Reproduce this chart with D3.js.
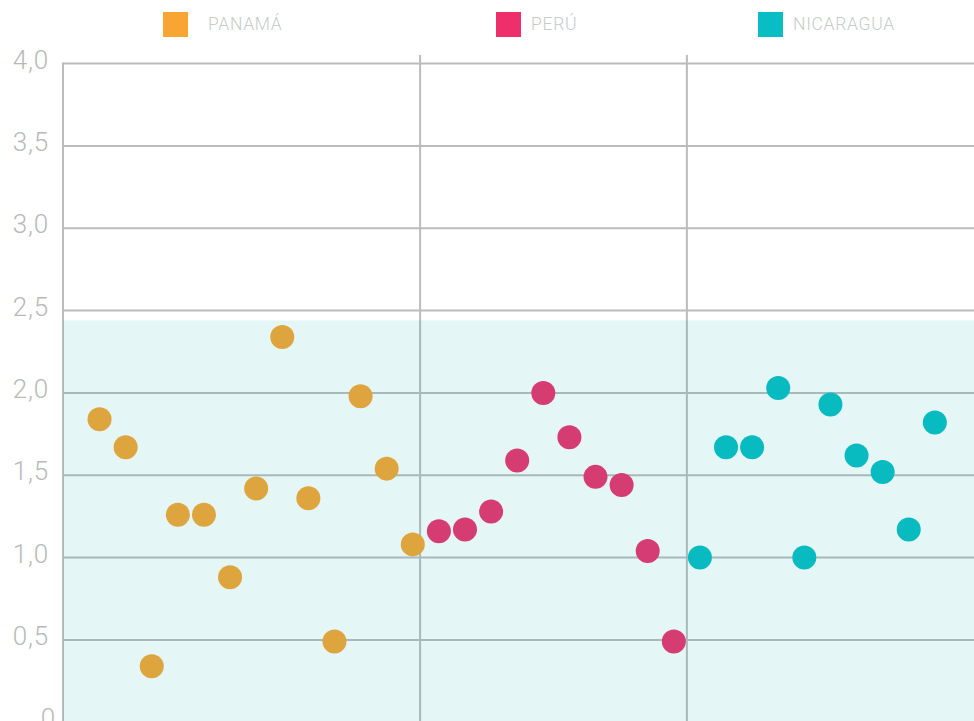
<!DOCTYPE html>
<html>
<head>
<meta charset="utf-8">
<script src="https://cdn.jsdelivr.net/npm/d3@7"></script>
<style>
  body { margin: 0; background: #fff; }
  text { font-family: Roboto, "Noto Sans", sans-serif; }
</style>
</head>
<body>
<svg id="chart"></svg>
<script>
// values, one dot per entry (x = running index)
const panama = [1.84, 1.67, 0.34, 1.26, 1.26, 0.88, 1.42, 2.34, 1.36, 0.49, 1.98, 1.54, 1.08];
const peru = [1.16, 1.17, 1.28, 1.59, 2.00, 1.73, 1.49, 1.44, 1.04, 0.49];
const nicaragua = [1.00, 1.67, 1.67, 2.03, 1.00, 1.93, 1.62, 1.52, 1.17, 1.82];

const seriesNames = ["PANAMÁ", "PERÚ", "NICARAGUA"];
const yTicks = [0, 0.5, 1, 1.5, 2, 2.5, 3, 3.5, 4];
const dividers = [12.28, 22.5];   // vertical separators, in index units
const bandTop = 2.44;            // shaded zone from 0 up to this value

const WIDTH = 974, HEIGHT = 721;
const DOT_R = 12;
const colors = ["#f9a533", "#ef2f6c", "#08bdc4"];
const legendX = [163, 496, 758];
const legendTextX = [208, 531, 793];

const svg = d3.select("#chart").attr("width", WIDTH).attr("height", HEIGHT);

const x = d3.scaleLinear().domain([-1.4, 33.5]).range([63, WIDTH]);
const y = d3.scaleLinear().domain([0, 4]).range([722.2, 63.6]);

// flatten series into points with a running index
let idx = 0;
const points = [];
[panama, peru, nicaragua].forEach((s, si) => {
    s.forEach(v => points.push({i: idx++, v: v, s: si}));
});

// horizontal grid
svg.append("g")
    .selectAll("line")
    .data(yTicks)
    .enter()
    .append("line")
    .attr("x1", x.range()[0])
    .attr("x2", WIDTH)
    .attr("y1", d => y(d))
    .attr("y2", d => y(d))
    .attr("stroke", "#bbbbbb")
    .attr("stroke-width", 2);

// left axis line
svg.append("line")
    .attr("x1", x.range()[0]).attr("x2", x.range()[0])
    .attr("y1", y(4) - 1).attr("y2", HEIGHT)
    .attr("stroke", "#bbbbbb")
    .attr("stroke-width", 2);

// group separators
svg.append("g")
    .selectAll("line")
    .data(dividers)
    .enter()
    .append("line")
    .attr("x1", d => x(d)).attr("x2", d => x(d))
    .attr("y1", 55).attr("y2", HEIGHT)
    .attr("stroke", "#bbbbbb")
    .attr("stroke-width", 2);

// y labels
const fmt = d => d === 0 ? "0" : d3.format(".1f")(d).replace(".", ",");
svg.append("g")
    .selectAll("text")
    .data(yTicks)
    .enter()
    .append("text")
    .attr("x", d => d === 0 ? 56 : 49)
    .attr("y", d => y(d) + 5)
    .attr("text-anchor", "end")
    .attr("font-size", 26)
    .attr("font-weight", 300)
    .attr("letter-spacing", 0.8)
    .attr("fill", "#b9b9b9")
    .text(fmt);

// dots
svg.append("g")
    .selectAll("circle")
    .data(points)
    .enter()
    .append("circle")
    .attr("cx", d => x(d.i))
    .attr("cy", d => y(d.v))
    .attr("r", DOT_R)
    .attr("fill", d => colors[d.s]);

// tinted zone drawn over grid and dots
svg.append("rect")
    .attr("x", x.range()[0])
    .attr("y", y(bandTop))
    .attr("width", WIDTH - x.range()[0])
    .attr("height", HEIGHT - y(bandTop))
    .attr("fill", "rgb(0,170,170)")
    .attr("fill-opacity", 0.106);

// legend
const legend = svg.append("g")
    .selectAll("g")
    .data(seriesNames)
    .enter()
    .append("g");

legend.append("rect")
    .attr("x", (d, i) => legendX[i])
    .attr("y", 12)
    .attr("width", 25)
    .attr("height", 25)
    .attr("fill", (d, i) => colors[i]);

legend.append("text")
    .attr("x", (d, i) => legendTextX[i])
    .attr("y", 30)
    .attr("font-size", 17.5)
    .attr("font-weight", 300)
    .attr("letter-spacing", 0.7)
    .attr("fill", "#c6cbcb")
    .text(d => d);
</script>
</body>
</html>
